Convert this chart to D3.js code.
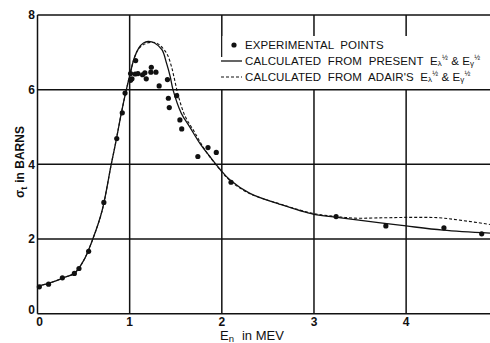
<!DOCTYPE html>
<html>
<head>
<meta charset="utf-8">
<script src="https://cdn.jsdelivr.net/npm/d3@7"></script>
<style>
body{margin:0;background:#fff}
svg text{font-family:"Liberation Sans",Arial,sans-serif;fill:#111}
</style>
</head>
<body>
<div id="chart"></div>
<script>
// experimental points (E in MeV, sigma in barns)
var expE = [0.02,0.12,0.27,0.40,0.45,0.555,0.72,0.86,0.92,0.95,1.01,1.025,1.01,1.06,1.065,1.09,1.14,1.165,1.18,1.23,1.235,1.285,1.32,1.41,1.42,1.43,1.51,1.545,1.565,1.74,1.85,1.94,2.10,3.24,3.78,4.41,4.82]
var expSigma = [0.72,0.79,0.96,1.08,1.21,1.67,2.98,4.69,5.38,5.91,6.25,6.29,6.43,6.42,6.78,6.43,6.40,6.45,6.29,6.47,6.60,6.47,6.10,6.27,5.77,5.52,5.84,5.19,4.95,4.21,4.45,4.32,3.52,2.60,2.35,2.30,2.14]

// calculated from present values
var presentE = [0,0.1,0.2,0.3,0.4,0.5,0.6,0.7,0.8,0.85,0.9,0.95,1.0,1.05,1.1,1.15,1.2,1.27,1.35,1.4,1.44,1.47,1.56,1.65,1.76,1.87,1.98,2.09,2.3,2.63,3.0,3.25,3.7,4.0,4.4,4.91]
var presentSigma = [0.74,0.8,0.88,0.98,1.08,1.42,2.0,2.75,4.0,4.6,5.25,5.85,6.37,6.85,7.12,7.25,7.29,7.25,7.07,6.71,6.35,6.0,5.37,5.01,4.57,4.21,3.87,3.58,3.23,2.93,2.66,2.58,2.44,2.35,2.24,2.16]

// calculated from Adair's values
var adairE = [0,0.1,0.2,0.3,0.4,0.5,0.6,0.7,0.8,0.85,0.9,0.95,1.0,1.05,1.1,1.16,1.24,1.3,1.4,1.45,1.48,1.53,1.6,1.7,1.8,1.87,1.98,2.09,2.3,2.63,3.0,3.25,3.44,3.77,4.06,4.35,4.6,4.91]
var adairSigma = [0.74,0.8,0.88,0.98,1.08,1.42,2.0,2.75,4.0,4.6,5.25,5.85,6.37,6.85,7.1,7.22,7.27,7.24,6.98,6.65,6.35,5.82,5.3,4.88,4.45,4.2,3.86,3.56,3.22,2.94,2.68,2.6,2.56,2.57,2.58,2.57,2.5,2.39]

var xTicks = [0,1,2,3,4]
var yTicks = [0,2,4,6,8]

var w = 490, h = 343
var svg = d3.select("#chart").append("svg").attr("width",w).attr("height",h)

var x = d3.scaleLinear().domain([0,4.91]).range([37.5,490])
var y = d3.scaleLinear().domain([0,8]).range([313.7,15])

var ink = "#111"

// grid lines
svg.selectAll(".hgrid").data(yTicks).enter().append("line")
    .attr("x1",x(0)).attr("x2",x(4.91))
    .attr("y1",function(d){return y(d)}).attr("y2",function(d){return y(d)})
    .attr("stroke",ink).attr("stroke-width",1.5)
svg.selectAll(".vgrid").data(xTicks).enter().append("line")
    .attr("x1",function(d){return x(d)}).attr("x2",function(d){return x(d)})
    .attr("y1",y(0)).attr("y2",y(8))
    .attr("stroke",ink).attr("stroke-width",1.5)

// tick labels
svg.selectAll(".ylab").data(yTicks).enter().append("text")
    .attr("x",35).attr("y",function(d){return d==0 ? y(d)-4 : y(d)})
    .attr("dy","0.36em").attr("text-anchor","end")
    .attr("font-size",12).attr("font-weight","bold")
    .text(function(d){return d})
svg.selectAll(".xlab").data(xTicks).enter().append("text")
    .attr("x",function(d){return d==0 ? x(d)+2 : x(d)}).attr("y",326)
    .attr("text-anchor","middle")
    .attr("font-size",12).attr("font-weight","bold")
    .text(function(d){return d})

// axis titles
var xt = svg.append("text").attr("x",220).attr("y",340).attr("font-size",13)
xt.append("tspan").text("E")
xt.append("tspan").attr("font-size",9.5).attr("dy",1.5).text("n")
xt.append("tspan").attr("dy",-1.5).attr("dx",8).text("in MEV")

var yt = svg.append("text").attr("transform","translate(24,162) rotate(-90)")
    .attr("text-anchor","middle").attr("font-size",12).attr("font-weight","bold")
yt.append("tspan").text("σ")
yt.append("tspan").attr("font-size",9).attr("dy",3).text("t")
yt.append("tspan").attr("dy",-3).attr("dx",4).text("in BARNS")

// curves
var line = d3.line().curve(d3.curveCatmullRom.alpha(0.5))
    .x(function(d){return x(d[0])}).y(function(d){return y(d[1])})

svg.append("path").datum(d3.zip(adairE,adairSigma))
    .attr("d",line).attr("fill","none").attr("stroke",ink)
    .attr("stroke-width",1.1).attr("stroke-dasharray","3,2")
svg.append("path").datum(d3.zip(presentE,presentSigma))
    .attr("d",line).attr("fill","none").attr("stroke",ink)
    .attr("stroke-width",1.3)

// experimental points
svg.selectAll(".pt").data(d3.zip(expE,expSigma)).enter().append("circle")
    .attr("cx",function(d){return x(d[0])}).attr("cy",function(d){return y(d[1])})
    .attr("r",2.6).attr("fill",ink)

// legend
svg.append("rect").attr("x",222.5).attr("y",36).attr("width",268).attr("height",53).attr("fill","#fff")
svg.append("rect").attr("x",219).attr("y",57).attr("width",6).attr("height",32).attr("fill","#fff")

svg.append("circle").attr("cx",234).attr("cy",45).attr("r",2.6).attr("fill",ink)
svg.append("line").attr("x1",221).attr("x2",242).attr("y1",61).attr("y2",61)
    .attr("stroke",ink).attr("stroke-width",1.3)
svg.append("line").attr("x1",221).attr("x2",242).attr("y1",77).attr("y2",77)
    .attr("stroke",ink).attr("stroke-width",1.1).attr("stroke-dasharray","3,2")

var legendRows = [
    {y:49,label:"EXPERIMENTAL  POINTS",sym:false},
    {y:65,label:"CALCULATED  FROM  PRESENT  ",sym:true},
    {y:81,label:"CALCULATED  FROM  ADAIR'S  ",sym:true}
]
legendRows.forEach(function(r){
    var t = svg.append("text").attr("x",245).attr("y",r.y)
        .attr("font-size",11.5).attr("letter-spacing",0.1)
        .attr("xml:space","preserve").style("white-space","pre")
    t.append("tspan").text(r.label)
    if(r.sym){
        t.append("tspan").text("E")
        t.append("tspan").attr("font-size",8).attr("dy",1).text("λ")
        t.append("tspan").attr("font-size",7).attr("dy",-6).text("½")
        t.append("tspan").attr("dy",5).text(" & E")
        t.append("tspan").attr("font-size",8).attr("dy",1).text("γ")
        t.append("tspan").attr("font-size",7).attr("dy",-6).text("½")
    }
})
</script>
</body>
</html>
